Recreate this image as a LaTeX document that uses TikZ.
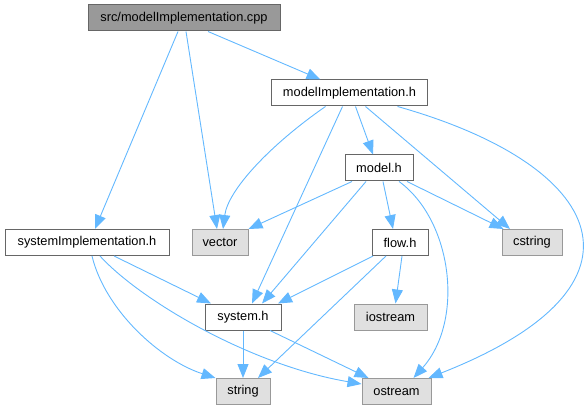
\documentclass[tikz,border=0pt]{standalone}
\usepackage{fontspec}
\setmainfont{Liberation Sans}
\usetikzlibrary{arrows.meta}

\definecolor{edgeblue}{HTML}{63B8FF}
\definecolor{boxgray}{HTML}{E0E0E0}
\definecolor{linegray}{HTML}{999999}
\definecolor{darkgray}{HTML}{666666}

\begin{document}
\begin{tikzpicture}[
    x=1pt, y=1pt,
    file/.style={rectangle, draw=darkgray, fill=white, line width=1pt, minimum height=26pt, inner xsep=0pt,
      font=\fontsize{12.8}{14}\selectfont},
    sysfile/.style={file, draw=linegray, fill=boxgray},
    mainfile/.style={file, draw=darkgray, fill=linegray},
    edge/.style={-{Triangle[length=14pt, width=11pt]}, draw=edgeblue, line width=0.9pt}
]
\useasboundingbox (0,0) rectangle (588,-411);

% the source file
\node[mainfile, minimum width=192pt] (cpp) at (184,-18) {src/modelImplementation.cpp};

% project headers
\node[file, minimum width=156pt] (mi) at (349.5,-93) {modelImplementation.h};
\node[file, minimum width=68pt] (model) at (379,-168) {model.h};
\node[file, minimum width=164pt] (sysimpl) at (87,-242.5) {systemImplementation.h};
\node[file, minimum width=56pt] (flow) at (400,-242.5) {flow.h};
\node[file, minimum width=76pt] (system) at (243,-317) {system.h};

% standard headers
\node[sysfile, minimum width=56pt] (vector) at (220,-242.5) {vector};
\node[sysfile, minimum width=60pt] (cstring) at (532,-242.5) {cstring};
\node[sysfile, minimum width=73pt] (iostream) at (390.5,-317) {iostream};
\node[sysfile, minimum width=54pt] (string) at (243,-391.5) {string};
\node[sysfile, minimum width=69pt] (ostream) at (396.5,-391.5) {ostream};

% includes of the source file
\draw[edge] ([xshift=-6pt]cpp.south) -- ([xshift=8pt]sysimpl.north);
\draw[edge] ([xshift=2pt]cpp.south) -- ([xshift=-3pt]vector.north);
\draw[edge] ([xshift=24pt]cpp.south) -- ([xshift=-29pt]mi.north);

% includes of modelImplementation.h
\draw[edge] ([xshift=-24pt]mi.south) .. controls (270,-145) and (228,-190) .. ([xshift=3pt]vector.north);
\draw[edge] ([xshift=-7pt]mi.south) -- ([xshift=9pt]system.north);
\draw[edge] ([xshift=6pt]mi.south) -- ([xshift=-6pt]model.north);
\draw[edge] ([xshift=16pt]mi.south) -- ([xshift=-22pt]cstring.north);
\draw[edge] ([xshift=48pt]mi.south) .. controls (605,-165) and (665,-285) .. ([xshift=-3pt]ostream.north east);

% includes of model.h
\draw[edge] ([xshift=-27pt]model.south) -- (vector.north east);
\draw[edge] ([xshift=-13pt]model.south) -- ([xshift=19pt]system.north);
\draw[edge] ([xshift=4pt]model.south) -- ([xshift=-7pt]flow.north);
\draw[edge] ([xshift=28pt]model.south) -- ([xshift=2pt]cstring.north west);
\draw[edge] ([xshift=20pt]model.south) .. controls (452,-220) and (465,-320) .. ([xshift=17pt]ostream.north);

% includes of systemImplementation.h
\draw[edge] ([xshift=27pt]sysimpl.south) -- ([xshift=-32pt]system.north);
\draw[edge] ([xshift=5pt]sysimpl.south) .. controls (105,-310) and (160,-360) .. (string.north west);
\draw[edge] ([xshift=13pt]sysimpl.south) .. controls (140,-300) and (250,-365) .. ([yshift=-6pt]ostream.north west);

% includes of flow.h
\draw[edge] ([xshift=-27pt]flow.south) -- ([xshift=35pt]system.north);
\draw[edge] ([xshift=-14pt]flow.south) -- ([xshift=15pt]string.north);
\draw[edge] ([xshift=2pt]flow.south) -- ([xshift=5pt]iostream.north);

% includes of system.h
\draw[edge] (system.south) -- (string.north);
\draw[edge] ([xshift=27pt]system.south) -- ([xshift=-28pt]ostream.north);
\end{tikzpicture}
\end{document}
